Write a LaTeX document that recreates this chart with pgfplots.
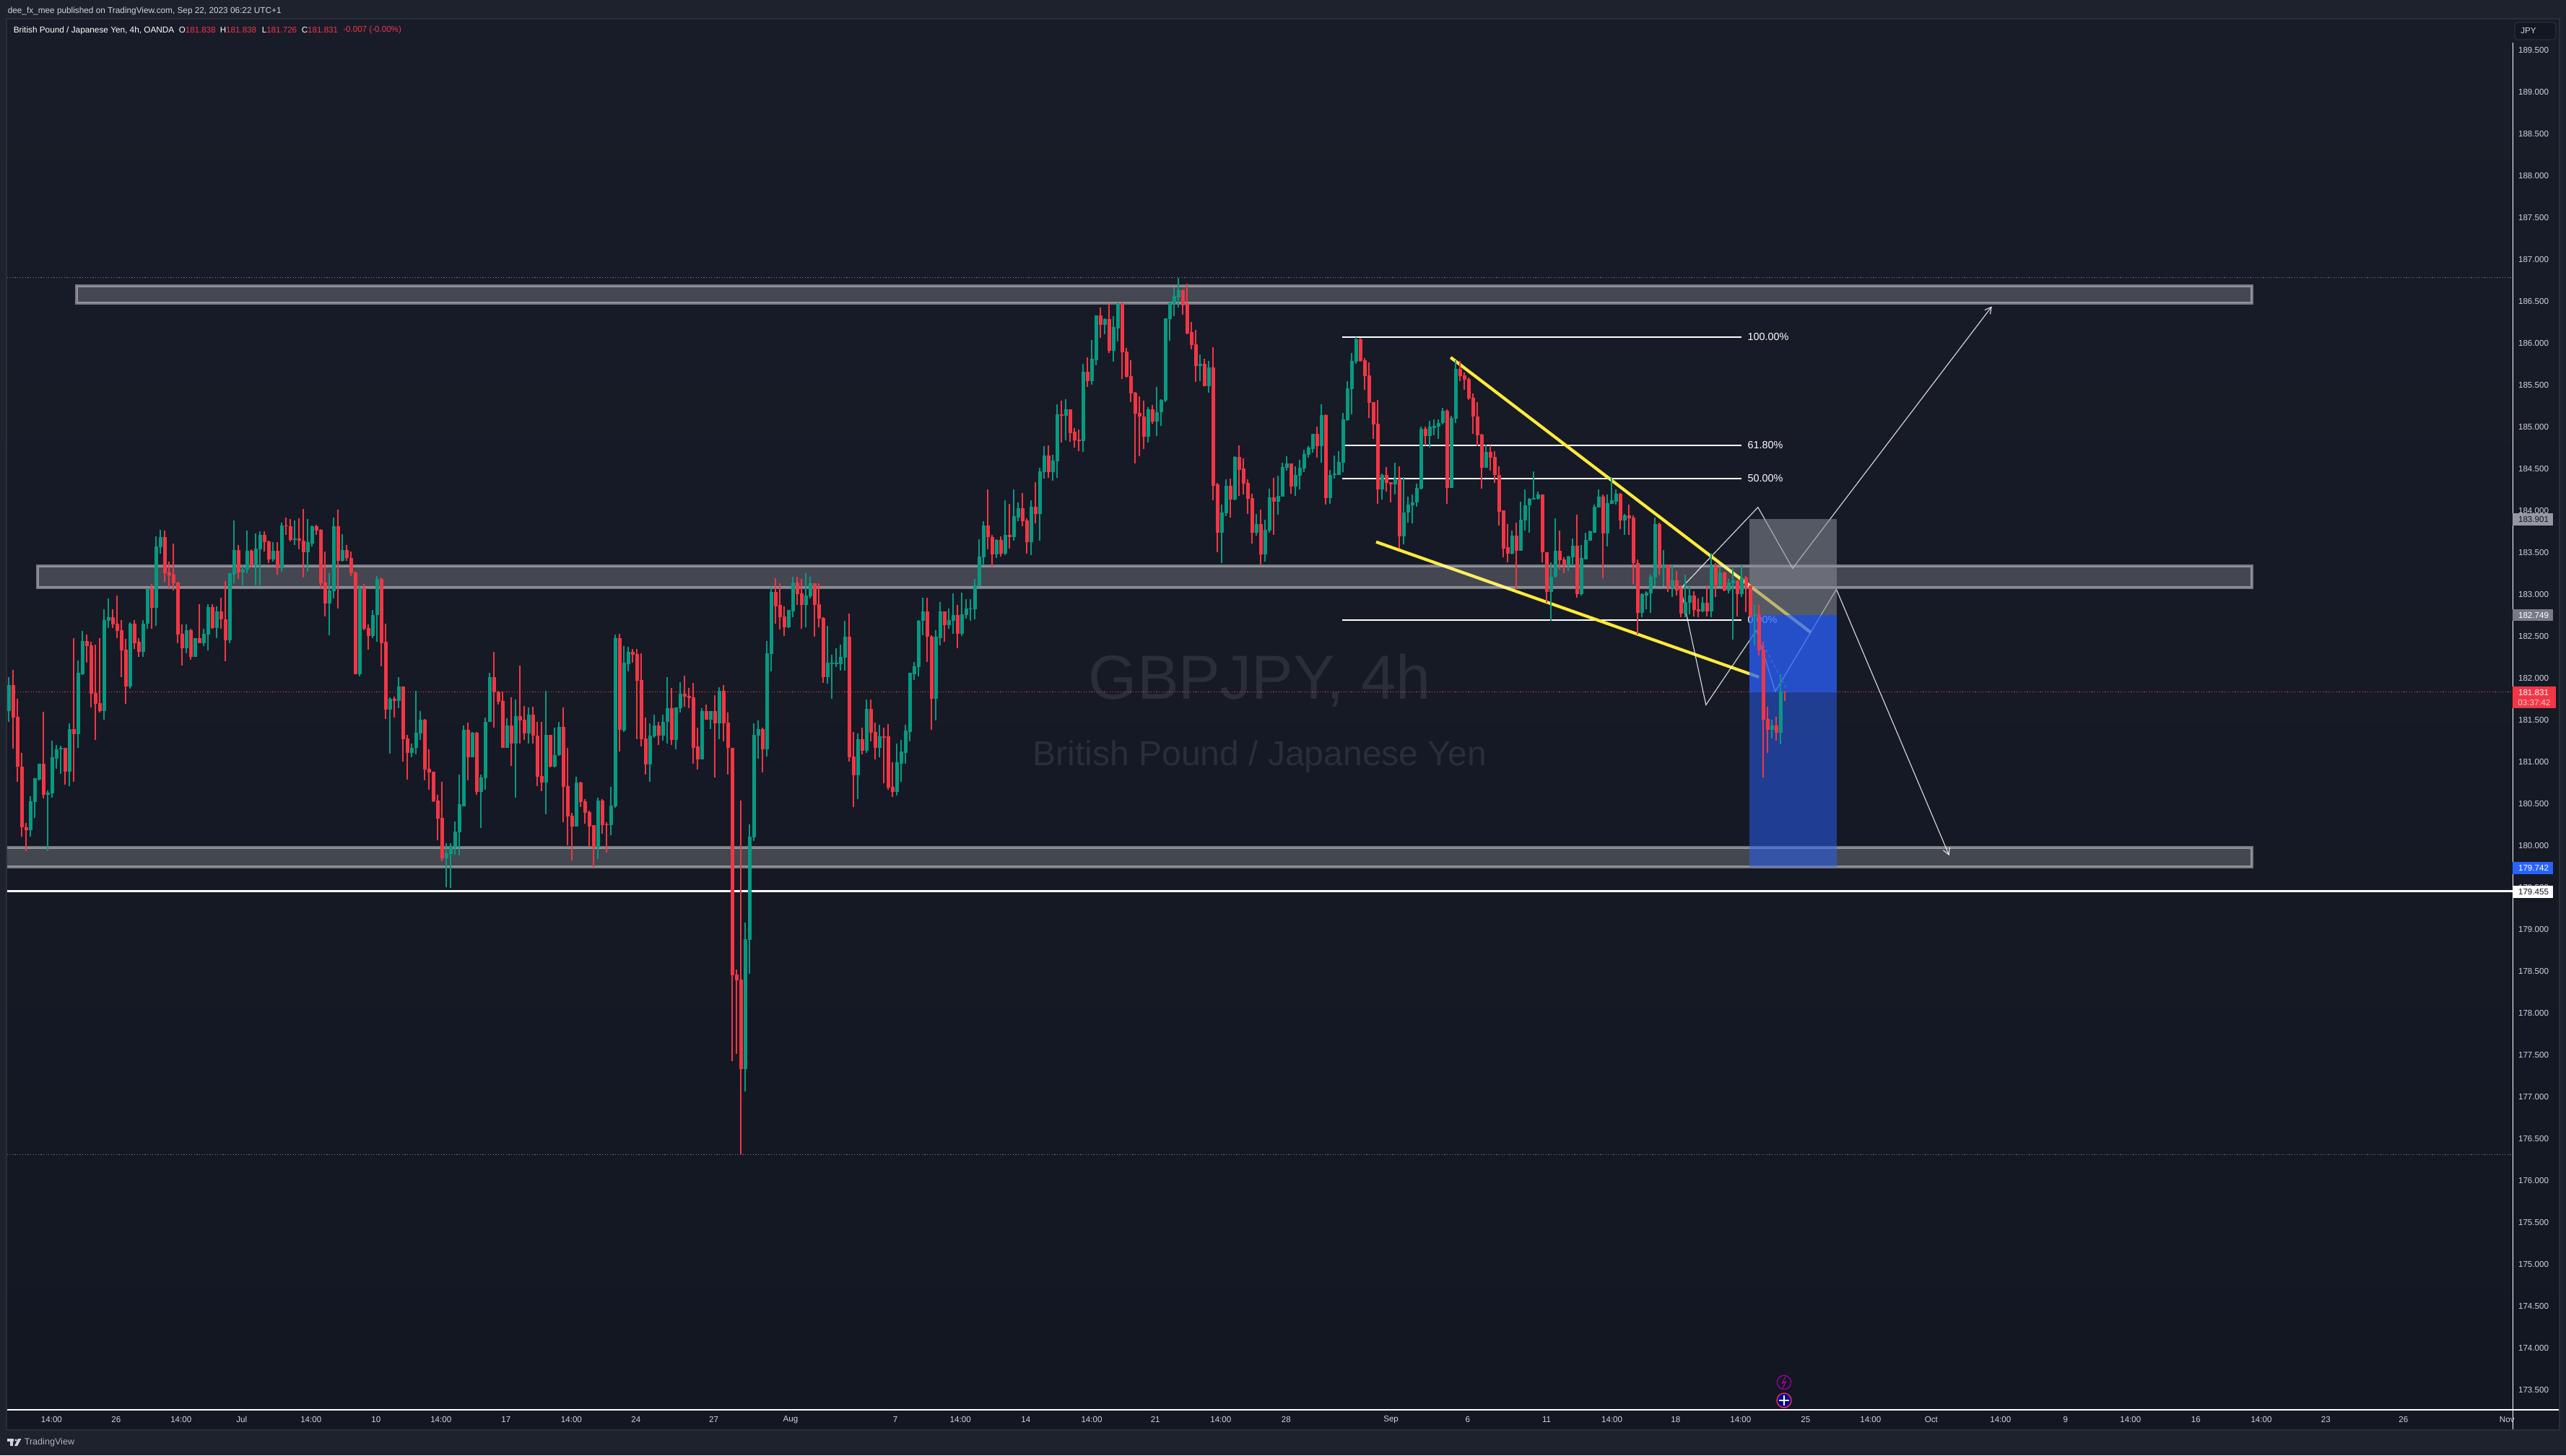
\documentclass[border=0pt]{standalone}
\usepackage{fontspec}
\setmainfont{Liberation Sans}
\usepackage{pgfplots}
\usepackage{pgfplotstable}
\pgfplotsset{compat=1.18}
\usetikzlibrary{arrows.meta}

\definecolor{outerbg}{HTML}{1E222D}
\definecolor{innertop}{HTML}{181C28}
\definecolor{innerbot}{HTML}{131722}
\definecolor{panelline}{HTML}{2A2E39}
\definecolor{upc}{HTML}{089981}
\definecolor{downc}{HTML}{F23645}
\definecolor{ticktxt}{HTML}{D1D4DC}
\definecolor{watermark}{HTML}{2A2E39}
\definecolor{fibyellow}{HTML}{FFEB3B}
\definecolor{rectgray}{HTML}{8A8D98}
\definecolor{tvblue}{HTML}{2962FF}
\definecolor{boxgray}{HTML}{787B86}
\definecolor{boxlight}{HTML}{9598A1}

% 1 reference pixel = 0.25pt
\newcommand{\fs}[1]{\fontsize{#1pt}{#1pt}\selectfont}
\newcommand{\px}[2]{({#1*0.25pt},{(2016-#2)*0.25pt})}

% i open high low close, 4h bars
\pgfplotstableread{
i o h l c
0 181.61 182.01 181.48 181.92
1 181.92 182.10 181.16 181.53
2 181.54 181.75 180.76 180.94
3 180.94 181.11 180.11 180.22
4 180.22 180.27 179.93 180.18
5 180.18 180.59 180.11 180.53
6 180.52 180.80 180.33 180.80
7 180.79 180.98 180.78 180.98
8 180.98 181.60 180.56 180.61
9 180.61 180.66 179.93 180.63
10 180.62 181.25 180.57 181.05
11 181.04 181.20 180.92 181.15
12 181.15 181.19 180.86 181.17
13 181.17 181.17 180.73 180.88
14 180.88 181.46 180.71 181.39
15 181.39 182.48 180.76 181.33
16 181.33 182.21 181.17 182.06
17 182.05 182.56 182.04 182.44
18 182.44 182.52 182.18 182.38
19 182.39 182.43 181.65 181.81
20 181.82 182.40 181.26 181.69
21 181.70 182.48 181.59 181.61
22 181.61 182.82 181.50 182.69
23 182.68 182.95 182.60 182.73
24 182.73 182.82 182.60 182.64
25 182.65 182.99 182.48 182.56
26 182.57 182.69 182.01 182.33
27 182.34 182.47 181.69 181.90
28 181.90 182.67 181.87 182.65
29 182.65 182.69 182.35 182.42
30 182.43 182.48 182.25 182.31
31 182.31 182.69 182.25 182.65
32 182.65 183.06 182.59 183.06
33 183.06 183.12 182.59 182.84
34 182.84 183.69 182.62 183.57
35 183.56 183.77 183.49 183.68
36 183.68 183.76 183.15 183.25
37 183.26 183.39 183.08 183.23
38 183.24 183.61 183.05 183.13
39 183.14 183.15 182.42 182.52
40 182.53 182.64 182.15 182.36
41 182.36 182.64 182.30 182.57
42 182.57 182.59 182.22 182.25
43 182.25 182.48 182.25 182.48
44 182.48 182.88 182.42 182.42
45 182.42 182.59 182.38 182.53
46 182.52 182.88 182.33 182.85
47 182.85 182.88 182.59 182.60
48 182.60 182.86 182.48 182.80
49 182.80 182.96 182.59 182.70
50 182.70 183.16 182.20 182.45
51 182.45 183.25 182.42 183.25
52 183.24 183.88 183.13 183.53
53 183.53 183.59 183.18 183.26
54 183.26 183.36 183.11 183.30
55 183.30 183.76 183.25 183.52
56 183.52 183.54 183.32 183.35
57 183.35 183.73 183.11 183.55
58 183.54 183.75 183.11 183.71
59 183.71 183.75 183.51 183.62
60 183.63 183.64 183.37 183.42
61 183.42 183.62 183.39 183.52
62 183.52 183.62 183.24 183.31
63 183.31 183.86 183.27 183.82
64 183.82 183.92 183.71 183.81
65 183.81 183.90 183.63 183.65
66 183.65 183.88 183.59 183.67
67 183.67 183.91 183.54 183.64
68 183.64 184.02 183.20 183.50
69 183.50 183.90 183.27 183.62
70 183.61 183.82 183.57 183.81
71 183.81 183.83 183.71 183.76
72 183.77 183.78 183.06 183.13
73 183.14 183.51 182.74 182.89
74 182.89 183.25 182.51 183.05
75 183.04 183.92 182.95 183.81
76 183.81 184.01 182.83 183.40
77 183.40 183.72 183.39 183.53
78 183.53 183.59 183.40 183.43
79 183.43 183.51 183.22 183.25
80 183.26 183.27 182.05 182.05
81 182.05 183.11 182.02 183.07
82 183.07 183.12 182.57 182.59
83 182.60 182.64 182.34 182.50
84 182.50 182.81 182.48 182.75
85 182.75 183.22 182.43 183.18
86 183.18 183.20 182.14 182.42
87 182.43 182.65 181.51 181.62
88 181.62 181.77 181.10 181.75
89 181.75 181.78 181.53 181.73
90 181.73 182.01 181.64 181.90
91 181.90 181.90 181.00 181.27
92 181.28 181.32 180.79 181.11
93 181.11 181.22 181.05 181.17
94 181.17 181.85 181.09 181.35
95 181.34 181.61 181.26 181.50
96 181.50 181.51 180.78 180.91
97 180.92 181.15 180.67 180.87
98 180.88 180.88 180.52 180.53
99 180.54 180.61 180.06 180.32
100 180.33 180.76 179.81 179.85
101 179.85 180.03 179.50 179.91
102 179.90 180.03 179.49 179.99
103 179.98 180.29 179.89 180.17
104 180.16 180.85 179.88 180.49
105 180.47 181.43 180.47 181.38
106 181.38 181.47 180.78 181.05
107 181.05 181.36 181.05 181.35
108 181.35 181.36 180.61 180.64
109 180.64 180.85 180.21 180.81
110 180.80 181.53 180.67 181.48
111 181.48 182.06 181.48 182.01
112 182.01 182.31 181.41 181.83
113 181.83 181.85 181.68 181.72
114 181.73 181.84 181.17 181.17
115 181.17 181.52 181.17 181.43
116 181.43 181.77 180.95 181.22
117 181.22 181.74 180.57 181.55
118 181.55 182.15 181.22 181.49
119 181.50 181.67 181.26 181.34
120 181.34 181.65 181.22 181.56
121 181.56 181.66 181.22 181.31
122 181.31 181.48 180.71 180.82
123 180.83 181.48 180.65 180.75
124 180.75 181.85 180.37 181.32
125 181.32 181.32 180.93 180.94
126 180.94 181.41 180.93 181.08
127 181.08 181.48 181.07 181.42
128 181.42 181.65 180.28 180.70
129 180.71 181.17 180.00 180.35
130 180.36 180.39 179.82 180.23
131 180.23 180.82 180.23 180.75
132 180.75 180.76 180.46 180.52
133 180.53 180.55 180.26 180.39
134 180.40 180.42 179.99 180.23
135 180.24 180.24 179.74 179.98
136 179.98 180.57 179.84 180.54
137 180.54 180.55 180.14 180.24
138 180.25 180.28 179.92 180.24
139 180.24 180.70 180.12 180.48
140 180.47 182.52 180.45 182.48
141 182.48 182.53 181.12 181.38
142 181.37 182.38 181.36 182.18
143 182.17 182.37 182.08 182.31
144 182.31 182.35 182.18 182.28
145 182.29 182.35 181.27 181.97
146 181.98 182.30 181.18 181.27
147 181.28 181.53 180.85 180.97
148 180.97 181.46 180.76 181.31
149 181.30 181.56 181.29 181.43
150 181.43 181.48 181.20 181.31
151 181.31 181.56 181.25 181.48
152 181.48 182.01 181.22 181.64
153 181.64 181.88 181.20 181.26
154 181.26 181.65 181.15 181.65
155 181.64 181.95 181.59 181.81
156 181.81 182.03 181.66 181.78
157 181.79 181.88 181.64 181.76
158 181.77 181.94 180.98 181.17
159 181.18 181.41 180.91 181.03
160 181.03 181.64 181.03 181.61
161 181.61 181.68 181.50 181.50
162 181.50 181.61 181.39 181.61
163 181.61 181.80 180.81 181.46
164 181.46 181.89 181.27 181.85
165 181.85 181.92 181.24 181.46
166 181.47 181.59 180.85 181.17
167 181.17 181.17 177.42 178.45
168 178.46 178.52 177.51 178.39
169 178.40 180.54 176.31 177.33
170 177.33 179.08 177.06 178.88
171 178.87 180.25 178.47 180.11
172 180.10 181.46 180.05 181.32
173 181.31 181.49 181.04 181.39
174 181.39 181.41 180.87 181.15
175 181.15 182.44 181.06 182.30
176 182.29 183.09 182.08 183.03
177 183.03 183.19 182.65 182.86
178 182.87 183.13 182.58 182.73
179 182.74 182.86 182.50 182.61
180 182.61 182.81 182.60 182.81
181 182.80 183.21 182.73 183.14
182 183.14 183.21 182.87 183.00
183 183.01 183.18 182.59 182.87
184 182.87 183.25 182.61 182.99
185 182.98 183.21 182.95 183.13
186 183.13 183.13 182.49 182.87
187 182.88 183.13 182.61 182.71
188 182.72 182.73 181.94 182.01
189 182.01 182.62 181.93 182.18
190 182.17 182.28 181.75 182.18
191 182.17 182.36 182.13 182.18
192 182.17 182.40 182.09 182.25
193 182.24 182.68 182.09 182.49
194 182.49 182.77 181.00 181.05
195 181.06 181.36 180.46 180.84
196 180.84 181.34 180.55 181.27
197 181.27 181.41 181.09 181.13
198 181.13 181.74 181.11 181.63
199 181.63 181.74 181.24 181.35
200 181.36 181.47 181.03 181.17
201 181.17 181.44 181.05 181.30
202 181.30 181.41 180.74 181.29
203 181.30 181.45 180.67 180.69
204 180.70 180.99 180.58 180.64
205 180.64 181.22 180.60 180.99
206 180.98 181.26 180.76 181.12
207 181.11 181.44 180.98 181.37
208 181.36 182.06 181.24 182.06
209 182.05 182.19 181.98 182.14
210 182.13 182.69 182.02 182.68
211 182.68 182.96 182.51 182.80
212 182.80 182.96 182.19 182.49
213 182.49 182.51 181.38 181.75
214 181.75 182.57 181.49 182.49
215 182.48 182.91 182.39 182.80
216 182.80 182.80 182.43 182.63
217 182.63 182.83 182.59 182.69
218 182.68 183.01 182.53 182.75
219 182.75 182.87 182.36 182.53
220 182.53 183.02 182.50 182.76
221 182.75 182.94 182.71 182.83
222 182.82 182.94 182.68 182.83
223 182.82 183.18 182.70 183.11
224 183.10 183.66 183.09 183.45
225 183.44 183.87 183.35 183.82
226 183.82 184.25 183.54 183.68
227 183.68 183.71 183.33 183.48
228 183.48 183.66 183.43 183.65
229 183.65 183.69 183.45 183.49
230 183.49 184.12 183.47 183.71
231 183.71 184.08 183.55 183.68
232 183.68 184.25 183.64 183.93
233 183.92 184.10 183.87 184.03
234 184.03 184.21 183.81 183.87
235 183.88 183.91 183.49 183.62
236 183.62 184.12 183.47 184.05
237 184.05 184.34 183.85 183.96
238 183.96 184.51 183.64 184.47
239 184.46 184.77 184.38 184.66
240 184.66 184.78 184.39 184.46
241 184.46 184.67 184.36 184.60
242 184.59 185.27 184.39 185.15
243 185.15 185.31 184.81 185.13
244 185.13 185.33 184.84 185.21
245 185.21 185.21 184.82 184.93
246 184.94 184.99 184.75 184.84
247 184.85 184.97 184.71 184.83
248 184.83 185.75 184.70 185.66
249 185.66 185.83 185.48 185.55
250 185.55 186.04 185.50 185.81
251 185.80 186.33 185.74 186.33
252 186.33 186.43 186.06 186.22
253 186.22 186.30 186.11 186.29
254 186.29 186.48 185.88 185.91
255 185.91 186.32 185.78 186.19
256 186.18 186.49 186.02 186.47
257 186.47 186.49 185.57 185.89
258 185.90 185.94 185.59 185.60
259 185.61 185.80 185.30 185.40
260 185.41 185.42 184.56 185.16
261 185.17 185.37 184.65 185.12
262 185.12 185.31 184.74 184.88
263 184.88 185.24 184.81 185.21
264 185.21 185.26 185.04 185.06
265 185.06 185.48 184.89 185.18
266 185.18 185.33 185.01 185.32
267 185.31 186.30 185.30 186.30
268 186.29 186.49 186.03 186.49
269 186.48 186.67 186.32 186.56
270 186.55 186.78 186.43 186.63
271 186.63 186.64 186.34 186.45
272 186.46 186.71 186.11 186.12
273 186.13 186.25 185.93 185.98
274 185.99 186.16 185.54 185.73
275 185.73 185.87 185.55 185.75
276 185.75 185.81 185.49 185.49
277 185.49 185.79 185.41 185.71
278 185.71 185.95 184.12 184.30
279 184.31 184.33 183.50 183.74
280 183.74 184.07 183.37 183.98
281 183.97 184.37 183.93 184.30
282 184.30 184.38 183.92 184.13
283 184.13 184.65 184.12 184.64
284 184.64 184.78 184.18 184.49
285 184.50 184.62 184.19 184.32
286 184.33 184.37 183.96 184.14
287 184.15 184.20 183.61 183.74
288 183.74 183.96 183.70 183.84
289 183.84 184.01 183.36 183.48
290 183.48 183.89 183.39 183.77
291 183.76 184.26 183.74 184.16
292 184.16 184.39 183.71 184.11
293 184.11 184.42 183.95 184.18
294 184.17 184.57 184.17 184.52
295 184.51 184.65 184.48 184.56
296 184.56 184.56 184.20 184.29
297 184.29 184.53 184.18 184.43
298 184.42 184.61 184.25 184.51
299 184.50 184.73 184.46 184.68
300 184.67 184.77 184.63 184.75
301 184.74 184.92 184.69 184.92
302 184.92 185.00 184.63 184.77
303 184.77 185.27 184.57 185.14
304 185.14 185.15 184.07 184.15
305 184.15 184.49 184.08 184.43
306 184.43 184.66 184.38 184.44
307 184.43 184.71 184.43 184.58
308 184.57 185.17 184.46 185.09
309 185.08 185.55 185.07 185.46
310 185.45 185.88 185.15 185.79
311 185.78 186.07 185.75 186.05
312 186.05 186.06 185.78 185.79
313 185.80 185.82 185.44 185.61
314 185.62 185.77 185.11 185.29
315 185.30 185.30 184.86 185.03
316 185.04 185.32 184.08 184.25
317 184.25 184.44 184.13 184.43
318 184.43 184.52 184.23 184.33
319 184.34 184.34 184.10 184.31
320 184.31 184.57 184.19 184.38
321 184.38 184.53 183.55 183.69
322 183.69 184.40 183.60 183.98
323 183.98 184.17 183.86 184.07
324 184.06 184.19 183.85 184.10
325 184.10 184.32 184.05 184.27
326 184.26 185.00 184.25 184.98
327 184.98 185.00 184.78 184.89
328 184.89 185.07 184.75 185.00
329 184.99 185.09 184.90 185.01
330 185.00 185.09 184.86 185.05
331 185.05 185.23 185.03 185.19
332 185.19 185.21 184.08 184.27
333 184.27 185.13 184.27 185.11
334 185.10 185.80 185.05 185.69
335 185.69 185.79 185.55 185.61
336 185.62 185.65 185.44 185.56
337 185.57 185.59 185.32 185.34
338 185.35 185.40 184.92 185.12
339 185.12 185.30 184.77 184.90
340 184.91 184.92 184.26 184.51
341 184.51 184.79 184.51 184.70
342 184.70 184.78 184.48 184.63
343 184.64 184.71 184.33 184.43
344 184.43 184.53 183.82 183.99
345 184.00 184.00 183.44 183.55
346 183.56 183.84 183.38 183.49
347 183.49 183.76 183.48 183.70
348 183.70 183.86 183.07 183.52
349 183.52 184.11 183.52 183.89
350 183.88 184.25 183.76 184.06
351 184.06 184.15 183.74 184.14
352 184.13 184.47 184.13 184.15
353 184.14 184.23 184.13 184.19
354 184.19 184.19 183.38 183.50
355 183.50 183.50 182.90 183.03
356 183.03 183.38 182.68 183.21
357 183.21 183.91 183.20 183.52
358 183.52 183.76 183.30 183.41
359 183.42 183.44 183.25 183.36
360 183.36 183.46 183.28 183.45
361 183.44 183.67 183.34 183.58
362 183.58 183.95 182.96 183.00
363 183.00 183.59 182.99 183.43
364 183.42 183.74 183.42 183.65
365 183.64 183.76 183.64 183.75
366 183.74 184.07 183.74 184.05
367 184.04 184.25 184.04 184.17
368 184.17 184.19 183.19 183.73
369 183.73 184.19 183.57 184.09
370 184.08 184.40 184.08 184.12
371 184.11 184.25 184.07 184.20
372 184.20 184.21 183.78 183.88
373 183.88 183.96 183.71 183.94
374 183.94 184.07 183.71 183.91
375 183.92 183.94 183.12 183.37
376 183.37 183.42 182.52 182.78
377 182.78 183.01 182.73 183.00
378 182.99 183.04 182.82 183.02
379 183.01 183.24 182.78 183.21
380 183.20 183.92 183.10 183.84
381 183.84 183.86 183.24 183.31
382 183.31 183.53 183.10 183.35
383 183.35 183.36 183.03 183.09
384 183.08 183.35 182.97 183.17
385 183.17 183.28 182.99 183.05
386 183.06 183.11 182.73 182.77
387 182.77 183.24 182.73 182.91
388 182.90 183.11 182.76 182.99
389 182.99 183.04 182.74 182.81
390 182.82 182.95 182.73 182.80
391 182.80 182.97 182.79 182.90
392 182.90 183.11 182.74 182.80
393 182.80 183.49 182.73 183.33
394 183.33 183.37 182.97 183.11
395 183.11 183.31 183.10 183.26
396 183.26 183.27 183.04 183.05
397 183.05 183.18 183.01 183.14
398 183.13 183.31 182.46 183.17
399 183.17 183.17 182.74 183.00
400 183.00 183.35 182.97 183.20
401 183.20 183.22 182.79 183.10
402 183.11 183.11 182.73 182.74
403 182.74 182.87 182.39 182.76
404 182.76 182.87 182.27 182.33
405 182.34 182.43 180.81 181.50
406 181.51 181.66 181.11 181.38
407 181.38 181.50 181.28 181.43
408 181.43 181.54 181.25 181.35
409 181.35 182.05 181.21 181.84
410 181.84 181.84 181.73 181.83
}\ohlc

\pgfplotsset{
  wick/.style={draw=none, mark=none, forget plot,
    error bars/.cd, y dir=plus, y explicit, error mark=none,
    error bar style={line width=0.28pt, draw=#1}},
  body/.style={draw=none, mark=none, forget plot,
    error bars/.cd, y dir=plus, y explicit, error mark=none,
    error bar style={line width=1.25pt, draw=#1}},
  zone/.style={forget plot, fill=white, fill opacity=0.2, draw=white, draw opacity=0.42, line width=1pt},
  fib/.style={forget plot, white, line width=0.5pt},
  pattern line/.style={forget plot, fibyellow, line width=1.05pt},
  zig/.style={forget plot, white, opacity=0.8, line width=0.3pt},
}

\begin{document}
\begin{tikzpicture}
\path[use as bounding box] (0,0) rectangle (888.5pt,504pt);
\fill[outerbg] (0,0) rectangle (888.5pt,504pt);
\fill[top color=innertop, bottom color=innerbot] \px{9}{26} rectangle \px{3545}{1981};
\draw[panelline, line width=0.5pt] \px{9}{26} rectangle \px{3545}{1981};

\begin{axis}[
  at={(2.5pt,15.75pt)}, anchor=south west,
  scale only axis, width=867.75pt, height=481.5pt,
  xmin=-0.3333, xmax=578.167, ymin=173.259, ymax=189.867,
  axis line style={draw=none}, major tick length=0pt, tick style={draw=none},
  ytick pos=right, yticklabel pos=right, xtick pos=bottom,
  ytick={173.5,174,...,189.5},
  yticklabel style={/pgf/number format/fixed, /pgf/number format/fixed zerofill, /pgf/number format/precision=3, /pgf/number format/1000 sep={}, /pgf/number format/assume math mode=true},
  every y tick label/.append style={anchor=center, xshift=7pt},
  every x tick label/.append style={anchor=center, yshift=-3.4pt},
  tick label style={font=\fs{2.9}, text=ticktxt},
  xtick={9.9,24.8,39.8,53.8,69.8,84.8,99.8,114.8,129.9,144.8,162.75,180.5,204.7,219.7,234.8,250,264.7,279.8,294.9,319.1,336.8,355,370.1,384.8,399.8,414.8,429.8,443.8,459.8,474.8,489.8,504.9,520,534.9,552.8,576.7},
  xticklabels={14:00,26,14:00,Jul,14:00,10,14:00,17,14:00,24,27,Aug,7,14:00,14,14:00,21,14:00,28,Sep,6,11,14:00,18,14:00,25,14:00,Oct,14:00,9,14:00,16,14:00,23,26,Nov},
  unbounded coords=discard,
]
% watermark
\node[text=watermark, font=\fs{21.6}] at (axis cs:288.8,181.97) {GBPJPY, 4h};
\node[text=watermark, font=\fs{12}] at (axis cs:288.8,181.06) {British Pound / Japanese Yen};

% high, low and last price lines
\addplot[forget plot, boxgray, line width=0.25pt, dash pattern=on 0.3pt off 0.6pt] coordinates {(-1,186.78)(579,186.78)};
\addplot[forget plot, boxgray, line width=0.25pt, dash pattern=on 0.3pt off 0.6pt] coordinates {(-1,176.31)(579,176.31)};
\addplot[forget plot, downc, line width=0.25pt, dash pattern=on 0.3pt off 0.6pt] coordinates {(1.5,181.831)(579,181.831)};
\addplot[forget plot, white, line width=0.55pt] coordinates {(-1,179.455)(579,179.455)};

% fib levels
\addplot[fib] coordinates {(307.8,186.074)(400,186.074)};
\addplot[fib] coordinates {(307.8,184.783)(400,184.783)};
\addplot[fib] coordinates {(307.8,184.384)(400,184.384)};
\addplot[fib] coordinates {(307.8,182.694)(400,182.694)};
\node[anchor=west, inner sep=0pt, text=white, font=\fs{3.6}] at (axis cs:401.3,186.074) {100.00\%};
\node[anchor=west, inner sep=0pt, text=white, font=\fs{3.6}] at (axis cs:401.3,184.783) {61.80\%};
\node[anchor=west, inner sep=0pt, text=white, font=\fs{3.6}] at (axis cs:401.3,184.384) {50.00\%};
\node[anchor=west, inner sep=0pt, text=white, font=\fs{3.6}] at (axis cs:401.3,182.694) {0.00\%};

% wedge
\addplot[pattern line] coordinates {(332.87,185.83)(416.03,182.544)};
\addplot[pattern line] coordinates {(315.67,183.626)(404.03,182.012)};

% projected swings
\addplot[zig, -{Straight Barb[length=2.2pt,width=2.4pt]}] coordinates {(386,183.07)(403.8,184.04)(411.8,183.31)(457.8,186.44)};
\addplot[zig, -{Straight Barb[length=2.2pt,width=2.4pt]}] coordinates {(386,183.07)(391.8,181.68)(403.45,182.57)(407.8,181.84)(421.9,183.06)(447.95,179.88)};
\addplot[forget plot, boxgray, line width=0.35pt, dash pattern=on 1pt off 1pt] coordinates {(405,182.40)(410.2,181.89)};

% zones
\addplot[zone] coordinates {(15.67,186.685)(517.83,186.685)(517.83,186.48)(15.67,186.48)} -- cycle;
\addplot[zone] coordinates {(6.67,183.339)(517.83,183.339)(517.83,183.082)(6.67,183.082)} -- cycle;
\addplot[zone] coordinates {(-5,179.977)(517.83,179.977)(517.83,179.745)(-5,179.745)} -- cycle;

% position box
\addplot[forget plot, draw=none, fill=rectgray, fill opacity=0.55] coordinates {(401.83,183.901)(421.95,183.901)(421.95,182.749)(401.83,182.749)} -- cycle;
\addplot[forget plot, draw=none, fill=tvblue, fill opacity=0.75] coordinates {(401.83,182.749)(421.95,182.749)(421.95,181.831)(401.83,181.831)} -- cycle;
\addplot[forget plot, draw=none, fill=tvblue, fill opacity=0.5] coordinates {(401.83,181.831)(421.95,181.831)(421.95,179.742)(401.83,179.742)} -- cycle;

% candles
\addplot[wick=upc] table[x expr={ifthenelse(\thisrow{c}>=\thisrow{o},\thisrow{i},nan)}, y=l, y error plus expr=\thisrow{h}-\thisrow{l}] {\ohlc};
\addplot[wick=downc] table[x expr={ifthenelse(\thisrow{c}<\thisrow{o},\thisrow{i},nan)}, y=l, y error plus expr=\thisrow{h}-\thisrow{l}] {\ohlc};
\addplot[body=upc] table[x expr={ifthenelse(\thisrow{c}>=\thisrow{o},\thisrow{i},nan)}, y=o, y error plus expr=\thisrow{c}-\thisrow{o}] {\ohlc};
\addplot[body=downc] table[x expr={ifthenelse(\thisrow{c}<\thisrow{o},\thisrow{i},nan)}, y=c, y error plus expr=\thisrow{o}-\thisrow{c}] {\ohlc};
\end{axis}

% frame of the price and time scales
\draw[white, line width=0.25pt] \px{3480.5}{59} -- \px{3480.5}{1980};
\draw[white, line width=0.3pt] \px{10}{1953} -- \px{3544}{1953};

% header
\node[anchor=west, inner sep=0pt, text=ticktxt, font=\fs{2.95}] at \px{10}{15} {dee\_fx\_mee published on TradingView.com, Sep 22, 2023 06:22 UTC+1};
\node[anchor=west, inner sep=0pt, text=white, font=\fs{2.95}] at \px{18}{42} {British Pound / Japanese Yen, 4h, OANDA};
\node[anchor=west, inner sep=0pt, font=\fs{2.9}] at \px{247}{42} {\textcolor{white}{O}\textcolor{downc}{181.838}};
\node[anchor=west, inner sep=0pt, font=\fs{2.9}] at \px{304}{42} {\textcolor{white}{H}\textcolor{downc}{181.838}};
\node[anchor=west, inner sep=0pt, font=\fs{2.9}] at \px{362}{42} {\textcolor{white}{L}\textcolor{downc}{181.726}};
\node[anchor=west, inner sep=0pt, font=\fs{2.9}] at \px{417}{42} {\textcolor{white}{C}\textcolor{downc}{181.831}};
\node[anchor=west, inner sep=0pt, text=downc, font=\fs{2.9}] at \px{474.5}{42} {-0.007 (-0.00\%)};

% currency button
\draw[panelline, fill=innerbot, line width=0.3pt, rounded corners=1pt] \px{3483}{31} rectangle \px{3540}{55};
\node[text=ticktxt, font=\fs{2.9}] at \px{3502}{43} {JPY};

% price labels
\fill[boxlight] \px{3480}{711} rectangle \px{3536}{727.6};
\node[text=innerbot, font=\fs{2.9}] at \px{3509}{719.3} {183.901};
\fill[boxgray] \px{3480}{844} rectangle \px{3536}{860.5};
\node[text=white, font=\fs{2.9}] at \px{3509}{852.2} {182.749};
\fill[downc] \px{3480}{951} rectangle \px{3540}{981.5};
\node[text=white, font=\fs{2.9}] at \px{3509}{959.3} {181.831};
\node[text=white!75!downc, font=\fs{2.9}] at \px{3510}{973.6} {03:37:42};
\fill[tvblue] \px{3480}{1194.2} rectangle \px{3536}{1210.8};
\node[text=white, font=\fs{2.9}] at \px{3509}{1202.5} {179.742};
\fill[white] \px{3480}{1227} rectangle \px{3536}{1243.6};
\node[text=innerbot, font=\fs{2.9}] at \px{3509}{1235.3} {179.455};

% event markers
\draw[violet!70!magenta, line width=0.3pt] \px{2471}{1915} circle (2.4pt);
\draw[violet!70!magenta, line width=0.3pt] \px{2473}{1907} -- \px{2468.5}{1916} -- \px{2473.5}{1914} -- \px{2469}{1923};
\fill[blue!60!black] \px{2471}{1940} circle (2.5pt);
\draw[white, line width=0.4pt] \px{2464}{1940} -- \px{2478}{1940};
\draw[white, line width=0.4pt] \px{2471}{1933} -- \px{2471}{1947};
\draw[downc, line width=0.35pt] \px{2471}{1940} circle (2.5pt);

% footer logo
\fill[ticktxt] \px{10}{1993} rectangle \px{19}{1996.5};
\fill[ticktxt] \px{14}{1993} rectangle \px{18}{2003};
\fill[ticktxt] \px{22}{1995} circle (0.42pt);
\fill[ticktxt] \px{25}{1993} -- \px{29.5}{1993} -- \px{24}{2003} -- \px{20}{2003} -- cycle;
\node[anchor=west, inner sep=0pt, text=ticktxt!85!black, font=\fs{3.15}] at \px{33}{1998.7} {TradingView};
\end{tikzpicture}
\end{document}
